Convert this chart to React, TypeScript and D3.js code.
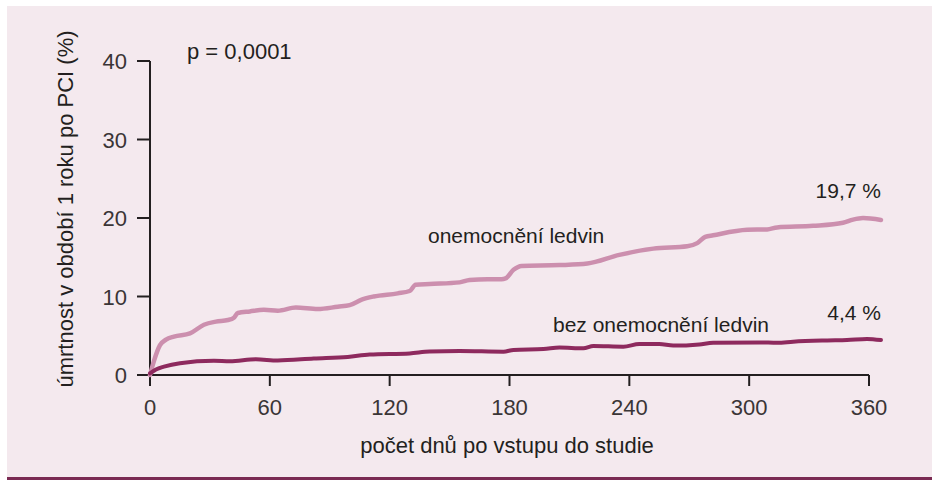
import * as d3 from "d3";

// x-axis ticks (days) and y-axis ticks (%)
const dayTicks = [0, 60, 120, 180, 240, 300, 360];
const rateTicks = [0, 10, 20, 30, 40];

// onemocnění ledvin (light curve)
const kidneyDays = [0, 2, 5, 8, 12, 20, 27, 33, 39, 42, 44, 50, 57, 64, 73, 84, 94, 100, 106, 112, 124, 130, 133, 140, 155, 160, 169, 176, 178, 182, 186, 205, 219, 235, 252, 269, 274, 278, 282, 299, 309, 314, 332, 347, 352, 357, 366];
const kidneyRates = [0, 1.8, 3.8, 4.5, 4.9, 5.3, 6.4, 6.8, 7.0, 7.3, 7.9, 8.1, 8.3, 8.2, 8.6, 8.4, 8.7, 8.9, 9.6, 10.0, 10.4, 10.7, 11.5, 11.6, 11.8, 12.1, 12.2, 12.2, 12.3, 13.4, 13.9, 14.0, 14.2, 15.3, 16.1, 16.4, 16.8, 17.6, 17.8, 18.5, 18.55, 18.8, 19.0, 19.4, 19.8, 20.0, 19.75];

// bez onemocnění ledvin (dark curve)
const noKidneyDays = [0, 3, 7, 15, 32, 40, 53, 64, 82, 99, 110, 130, 140, 155, 177, 182, 197, 205, 217, 222, 237, 245, 255, 262, 275, 282, 305, 314, 322, 339, 349, 359, 366];
const noKidneyRates = [0.2, 0.7, 1.06, 1.5, 1.8, 1.75, 2.0, 1.85, 2.1, 2.3, 2.6, 2.75, 3.0, 3.05, 2.97, 3.2, 3.3, 3.5, 3.4, 3.7, 3.6, 3.95, 3.95, 3.75, 3.9, 4.1, 4.15, 4.1, 4.25, 4.4, 4.45, 4.6, 4.45];

const W = 937;
const H = 480;
const bg = "#f4e9ee";
const light = "#cc8fae";
const dark = "#8e2a5e";
const ink = "#231f20";
const font = "'Liberation Sans', Arial, sans-serif";

const x = d3.scaleLinear().domain([0, 360]).range([150, 869]);
const y = d3.scaleLinear().domain([0, 40]).range([375, 61]);

const line = d3
  .line<[number, number]>()
  .x((d) => x(d[0]))
  .y((d) => y(d[1]))
  .curve(d3.curveMonotoneX);

const zip = (a: number[], b: number[]) => a.map((v, i) => [v, b[i]] as [number, number]);

export default function App() {
  return (
    <svg
      width={W}
      height={H}
      style={{ position: "absolute", left: 0, top: 0 }}
    >
      <rect x={0} y={0} width={W} height={H} fill="#ffffff" />
      <rect x={7} y={6} width={925} height={472} fill={bg} />
      <rect x={7} y={477} width={925} height={3} fill="#7a2a52" />

      {/* axes */}
      <line x1={150} x2={150} y1={y(40)} y2={y(0)} stroke={ink} strokeWidth={2} />
      <line x1={137} x2={x(360)} y1={y(0)} y2={y(0)} stroke={ink} strokeWidth={2} />
      {rateTicks.map((t) => (
        <g key={"y" + t}>
          <line x1={137} x2={150} y1={y(t)} y2={y(t)} stroke={ink} strokeWidth={2} />
          <text
            x={127}
            y={y(t) + 8}
            textAnchor="end"
            fontFamily={font}
            fontSize={22}
            fill="#3a3536"
          >
            {t}
          </text>
        </g>
      ))}
      {dayTicks.map((t) => (
        <g key={"x" + t}>
          <line x1={x(t)} x2={x(t)} y1={y(0)} y2={y(0) + 11} stroke={ink} strokeWidth={2} />
          <text
            x={x(t)}
            y={415}
            textAnchor="middle"
            fontFamily={font}
            fontSize={22}
            fill="#3a3536"
          >
            {t}
          </text>
        </g>
      ))}

      {/* curves */}
      <path
        d={line(zip(kidneyDays, kidneyRates)) ?? ""}
        fill="none"
        stroke={light}
        strokeWidth={4.5}
        strokeLinecap="round"
        strokeLinejoin="round"
      />
      <path
        d={line(zip(noKidneyDays, noKidneyRates)) ?? ""}
        fill="none"
        stroke={dark}
        strokeWidth={4}
        strokeLinecap="round"
        strokeLinejoin="round"
      />

      {/* labels */}
      <text x={187} y={59} fontFamily={font} fontSize={22} fill={ink}>
        p = 0,0001
      </text>
      <text x={428} y={243} fontFamily={font} fontSize={21} fill={ink}>
        onemocnění ledvin
      </text>
      <text x={553} y={332} fontFamily={font} fontSize={21} fill={ink}>
        bez onemocnění ledvin
      </text>
      <text x={881} y={198} textAnchor="end" fontFamily={font} fontSize={21} fill={ink}>
        19,7 %
      </text>
      <text x={881} y={320} textAnchor="end" fontFamily={font} fontSize={21} fill={ink}>
        4,4 %
      </text>
      <text
        x={507}
        y={453}
        textAnchor="middle"
        fontFamily={font}
        fontSize={22}
        fill={ink}
      >
        počet dnů po vstupu do studie
      </text>
      <text
        transform={`translate(73,209) rotate(-90)`}
        textAnchor="middle"
        fontFamily={font}
        fontSize={22}
        fill={ink}
      >
        úmrtnost v období 1 roku po PCI (%)
      </text>
    </svg>
  );
}
